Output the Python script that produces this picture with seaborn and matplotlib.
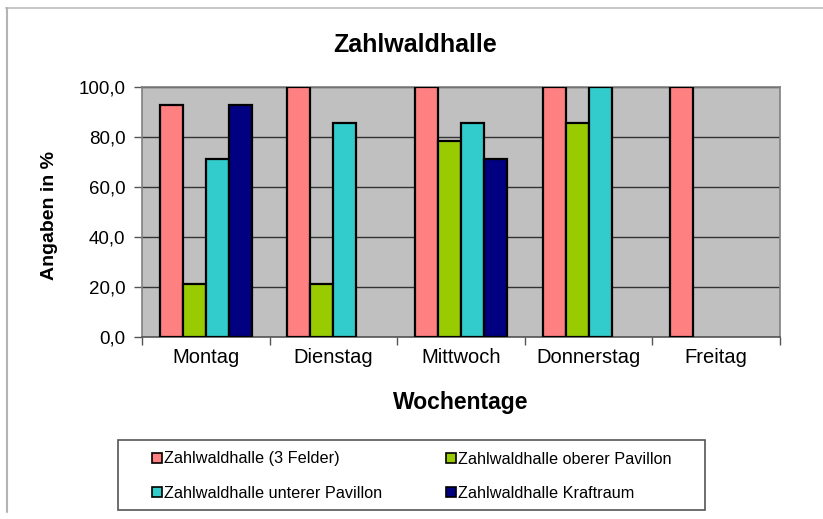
import matplotlib
matplotlib.use("Agg")
import matplotlib.pyplot as plt
import seaborn as sns
import numpy as np
import pandas as pd
from matplotlib.patches import Rectangle, Patch
from matplotlib.lines import Line2D
from matplotlib.ticker import FuncFormatter, FixedLocator

# Daten
tage = ['Montag', 'Dienstag', 'Mittwoch', 'Donnerstag', 'Freitag']
serien = ['Zahlwaldhalle (3 Felder)', 'Zahlwaldhalle oberer Pavillon',
          'Zahlwaldhalle unterer Pavillon', 'Zahlwaldhalle Kraftraum']
drei_felder = [92.9, 100.0, 100.0, 100.0, 100.0]
oberer_pavillon = [21.4, 21.4, 78.6, 85.7, np.nan]
unterer_pavillon = [71.4, 85.7, 85.7, 100.0, np.nan]
kraftraum = [92.9, np.nan, 71.4, np.nan, np.nan]
farben = ['#FF8080', '#99CC00', '#33CCCC', '#000080']

df = pd.DataFrame({'Tag': tage * 4,
                   'Halle': np.repeat(serien, len(tage)),
                   'Wert': drei_felder + oberer_pavillon + unterer_pavillon + kraftraum})

sns.set_style('white')
plt.rcParams['font.family'] = ['Liberation Sans', 'DejaVu Sans']
plt.rcParams['text.color'] = 'black'
plt.rcParams['xtick.color'] = 'black'
plt.rcParams['ytick.color'] = 'black'

fig = plt.figure(figsize=(8.23, 5.19), dpi=100)
ax = fig.add_axes([142 / 823, 1 - 337 / 519, (780 - 142) / 823, (337 - 87) / 519])

sns.barplot(data=df, x='Tag', y='Wert', hue='Halle', order=tage, hue_order=serien,
            palette=farben, width=0.72, edgecolor='black', linewidth=1.6,
            errorbar=None, saturation=1, ax=ax, zorder=3)
if ax.get_legend() is not None:
    ax.get_legend().remove()

ax.set_facecolor('#C0C0C0')
ax.set_ylim(0, 100)
ax.set_xlim(-0.5, len(tage) - 0.5)
ax.set_yticks([0, 20, 40, 60, 80, 100])
ax.yaxis.set_major_formatter(FuncFormatter(lambda v, p: f'{v:.1f}'.replace('.', ',')))
ax.grid(axis='y', color='#333333', linewidth=1, zorder=0)
ax.set_axisbelow(True)
for s in ax.spines.values():
    s.set_color('#808080')
    s.set_linewidth(1.2)
ax.spines['bottom'].set_color('#555555')

ax.tick_params(axis='y', which='major', length=6, width=1, color='#555555',
               labelsize=13.5, pad=6, left=True)
ax.tick_params(axis='x', which='major', length=0, labelsize=14.5, pad=8)
ax.xaxis.set_minor_locator(FixedLocator(np.arange(-0.5, len(tage), 1)))
ax.tick_params(axis='x', which='minor', length=6, width=1, color='#555555', bottom=True)

ax.set_xlabel('')
ax.set_ylabel('')
fig.text(461 / 823, 1 - 402 / 519, 'Wochentage', fontsize=16.5, fontweight='bold',
         ha='center', va='center')
fig.text(50 / 823, 1 - 215 / 519, 'Angaben in %', fontsize=14, fontweight='bold',
         ha='center', va='center', rotation=90)
fig.text(415 / 823, 1 - 45 / 519, 'Zahlwaldhalle', fontsize=18, fontweight='bold',
         ha='center', va='center')

# Rahmen außen (nur oben und links sichtbar)
fig.lines.append(Line2D([6 / 823, 1], [1 - 7.5 / 519, 1 - 7.5 / 519], transform=fig.transFigure,
                        color='#C8C8C8', linewidth=1.5))
fig.lines.append(Line2D([6.5 / 823, 6.5 / 823], [1 - 7.5 / 519, 1 - 512 / 519],
                        transform=fig.transFigure, color='#B4B4B4', linewidth=1.5))

# Legende
handles = [Patch(facecolor=c, edgecolor='black', linewidth=1.2) for c in farben]
order = [0, 2, 1, 3]
fig.patches.append(Rectangle((118.5 / 823, 1 - 510 / 519), (705 - 118.5) / 823, 70 / 519,
                             transform=fig.transFigure, fill=False,
                             edgecolor='#555555', linewidth=1.2))
fig.legend([handles[i] for i in order], [serien[i] for i in order], ncol=2,
           loc='lower left', mode='expand',
           bbox_to_anchor=(152 / 823, 1 - 501 / 519, (672 - 152) / 823, 56 / 519),
           frameon=False, fontsize=11.7, handlelength=0.6, handleheight=0.6,
           handletextpad=0.15, labelspacing=1.2, borderaxespad=0, borderpad=0)

fig.savefig('out.png', dpi=100)
